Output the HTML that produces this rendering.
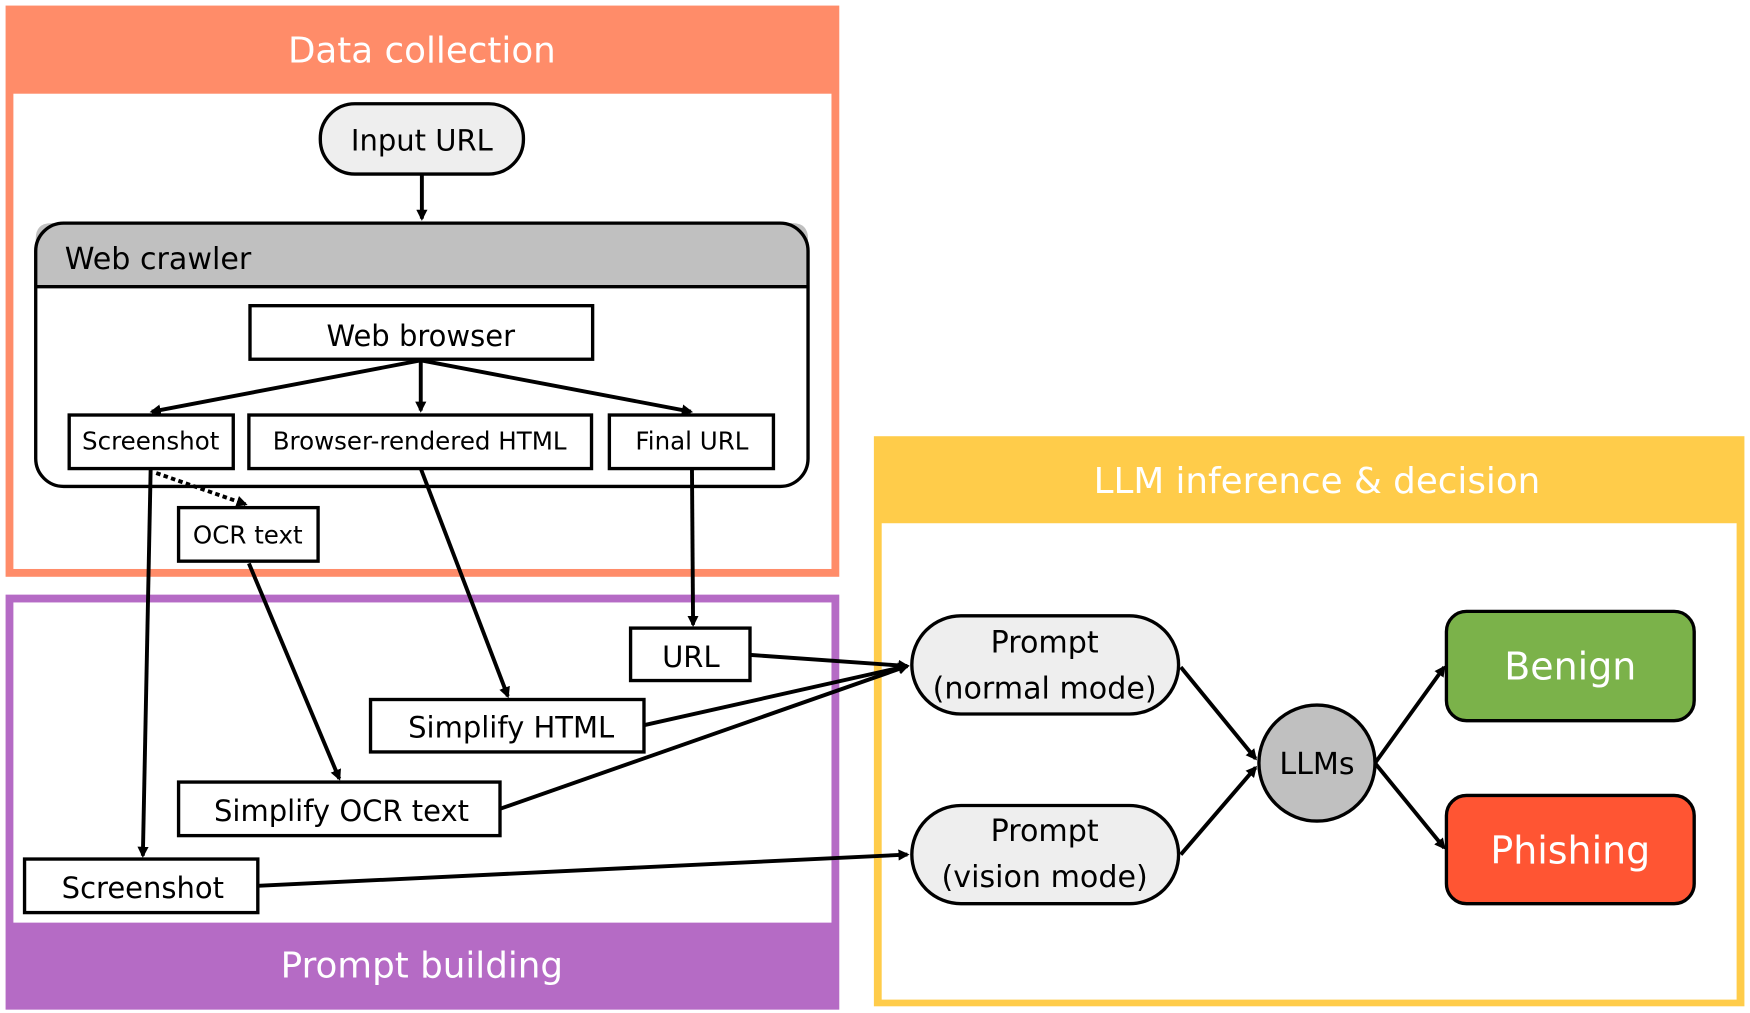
<!DOCTYPE html>
<html><head><meta charset="utf-8"><style>
html,body{margin:0;padding:0;background:#fff;}
svg{display:block;}
text{font-family:"DejaVu Sans","Liberation Sans",sans-serif;fill:#000;}
</style></head><body>
<svg width="1750" height="1013" viewBox="0 0 1568 908" preserveAspectRatio="none" xmlns="http://www.w3.org/2000/svg">
<defs>
<marker id="a" markerWidth="10" markerHeight="10" refX="8" refY="5" orient="auto" markerUnits="userSpaceOnUse"><path d="M0,0 L10,5 L0,10 z" fill="#000"/></marker>
</defs>
<!-- Data collection -->
<rect x="5" y="5" width="747" height="512" fill="#FF8C69"/>
<rect x="12" y="84" width="733" height="426" fill="#fff"/>
<text x="378" y="56" font-size="32" text-anchor="middle" style="fill:#fff">Data collection</text>
<!-- Prompt building -->
<rect x="5" y="533" width="747" height="372" fill="#B56BC5"/>
<rect x="12" y="540" width="733" height="287" fill="#fff"/>
<text x="378" y="876" font-size="32" text-anchor="middle" style="fill:#fff">Prompt building</text>
<!-- LLM -->
<rect x="783" y="391" width="780" height="511" fill="#FFCC4A"/>
<rect x="790" y="469" width="766" height="427" fill="#fff"/>
<text x="1180" y="442" font-size="32" text-anchor="middle" style="fill:#fff">LLM inference &amp; decision</text>

<!-- Input URL -->
<rect x="287" y="93" width="182" height="63" rx="31" fill="#eee" stroke="#000" stroke-width="3"/>
<text x="378" y="135" font-size="26" text-anchor="middle">Input URL</text>
<line x1="378" y1="156" x2="378" y2="196" stroke="#000" stroke-width="3.5" marker-end="url(#a)"/>
<!-- Web crawler -->
<path d="M32,257 L32,214 Q32,200 46,200 L710,200 Q724,200 724,214 L724,257 Z" fill="#c0c0c0"/>
<rect x="32" y="200" width="692" height="236" rx="25" fill="none" stroke="#000" stroke-width="3"/>
<line x1="32" y1="257" x2="724" y2="257" stroke="#000" stroke-width="3"/>
<text x="58" y="241" font-size="27">Web crawler</text>
<rect x="224" y="274" width="307" height="48" fill="#fff" stroke="#000" stroke-width="3"/>
<text x="377" y="310" font-size="26" text-anchor="middle">Web browser</text>
<line x1="377" y1="323" x2="136" y2="369" stroke="#000" stroke-width="3.5" marker-end="url(#a)"/>
<line x1="377" y1="323" x2="377" y2="368" stroke="#000" stroke-width="3.5" marker-end="url(#a)"/>
<line x1="377" y1="323" x2="619" y2="369" stroke="#000" stroke-width="3.5" marker-end="url(#a)"/>
<rect x="62" y="372" width="147" height="48" fill="#fff" stroke="#000" stroke-width="3"/>
<text x="135" y="403" font-size="22" text-anchor="middle">Screenshot</text>
<rect x="223" y="372" width="307" height="48" fill="#fff" stroke="#000" stroke-width="3"/>
<text x="376" y="403" font-size="22" text-anchor="middle">Browser-rendered HTML</text>
<rect x="546" y="372" width="147" height="48" fill="#fff" stroke="#000" stroke-width="3"/>
<text x="620" y="403" font-size="22" text-anchor="middle">Final URL</text>
<!-- OCR -->
<line x1="140" y1="424" x2="220" y2="452" stroke="#000" stroke-width="3.5" stroke-dasharray="4,3" marker-end="url(#a)"/>
<rect x="160" y="455" width="125" height="48" fill="#fff" stroke="#000" stroke-width="3"/>
<text x="222" y="487" font-size="22" text-anchor="middle">OCR text</text>
<!-- connectors -->
<line x1="135" y1="420" x2="128" y2="767" stroke="#000" stroke-width="3.5" marker-end="url(#a)"/>
<line x1="223" y1="505" x2="304" y2="698" stroke="#000" stroke-width="3.5" marker-end="url(#a)"/>
<line x1="377" y1="420" x2="455" y2="624" stroke="#000" stroke-width="3.5" marker-end="url(#a)"/>
<line x1="620" y1="420" x2="621" y2="560" stroke="#000" stroke-width="3.5" marker-end="url(#a)"/>
<rect x="565" y="563" width="107" height="47" fill="#fff" stroke="#000" stroke-width="3"/>
<text x="619" y="598" font-size="26" text-anchor="middle">URL</text>
<rect x="332" y="627" width="245" height="47" fill="#fff" stroke="#000" stroke-width="3"/>
<text x="458" y="661" font-size="26" text-anchor="middle">Simplify HTML</text>
<rect x="160" y="701" width="288" height="48" fill="#fff" stroke="#000" stroke-width="3"/>
<text x="306" y="736" font-size="26" text-anchor="middle">Simplify OCR text</text>
<rect x="22" y="770" width="209" height="48" fill="#fff" stroke="#000" stroke-width="3"/>
<text x="128" y="805" font-size="26" text-anchor="middle">Screenshot</text>
<line x1="672" y1="587" x2="813" y2="597" stroke="#000" stroke-width="3.5" marker-end="url(#a)"/>
<line x1="577" y1="650" x2="813" y2="597" stroke="#000" stroke-width="3.5" marker-end="url(#a)"/>
<line x1="448" y1="725" x2="813" y2="597" stroke="#000" stroke-width="3.5" marker-end="url(#a)"/>
<line x1="231" y1="794" x2="813" y2="766" stroke="#000" stroke-width="3.5" marker-end="url(#a)"/>
<!-- prompts -->
<rect x="817" y="552" width="239" height="88" rx="44" fill="#eee" stroke="#000" stroke-width="3"/>
<text x="936" y="585" font-size="27" text-anchor="middle">Prompt</text>
<text x="936" y="626" font-size="27" text-anchor="middle">(normal mode)</text>
<rect x="817" y="722" width="239" height="88" rx="44" fill="#eee" stroke="#000" stroke-width="3"/>
<text x="936" y="754" font-size="27" text-anchor="middle">Prompt</text>
<text x="936" y="795" font-size="27" text-anchor="middle">(vision mode)</text>
<line x1="1058" y1="598" x2="1125" y2="680" stroke="#000" stroke-width="3.5" marker-end="url(#a)"/>
<line x1="1058" y1="766" x2="1125" y2="688" stroke="#000" stroke-width="3.5" marker-end="url(#a)"/>
<circle cx="1180" cy="684" r="52" fill="#c0c0c0" stroke="#000" stroke-width="3"/>
<text x="1180" y="694" font-size="27" text-anchor="middle">LLMs</text>
<line x1="1232" y1="684" x2="1294" y2="598" stroke="#000" stroke-width="3.5" marker-end="url(#a)"/>
<line x1="1232" y1="684" x2="1294" y2="760" stroke="#000" stroke-width="3.5" marker-end="url(#a)"/>
<rect x="1296" y="548" width="222" height="98" rx="18" fill="#7BB24A" stroke="#000" stroke-width="3"/>
<text x="1407" y="609" font-size="34" text-anchor="middle" style="fill:#fff">Benign</text>
<rect x="1296" y="713" width="222" height="97" rx="18" fill="#FF5533" stroke="#000" stroke-width="3"/>
<text x="1407" y="774" font-size="34" text-anchor="middle" style="fill:#fff">Phishing</text>
</svg>
</body></html>
